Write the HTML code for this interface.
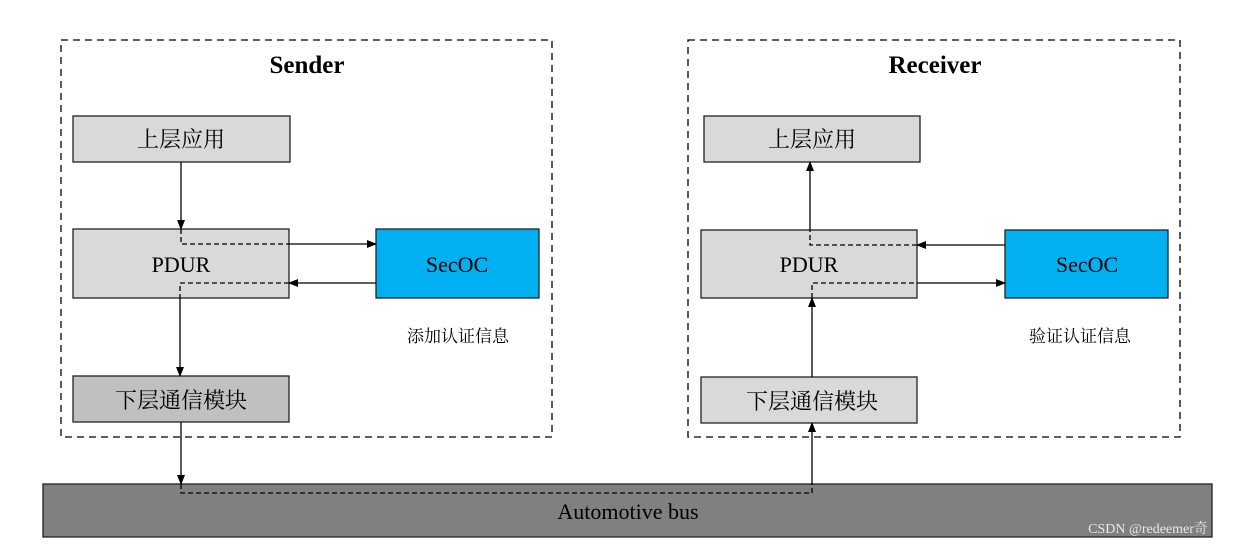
<!DOCTYPE html>
<html><head><meta charset="utf-8"><style>
body{margin:0;background:#fff}
svg text{font-family:"Liberation Serif","Noto Serif CJK SC",serif}
</style></head><body>
<svg width="1237" height="548" xmlns="http://www.w3.org/2000/svg">
<defs><marker id="a" markerWidth="10" markerHeight="10" refX="9" refY="4" orient="auto" markerUnits="userSpaceOnUse"><path d="M0,0 L10,4 L0,8 z" fill="#000"/></marker></defs>
<rect width="1237" height="548" fill="#fff"/>
<rect x="61" y="40" width="491" height="397" fill="none" stroke="#000" stroke-width="1.3" stroke-dasharray="7,5"/>
<rect x="688" y="40" width="492" height="397" fill="none" stroke="#000" stroke-width="1.3" stroke-dasharray="7,5"/>
<text x="307" y="73" font-size="25" font-weight="bold" text-anchor="middle">Sender</text>
<text x="935" y="73" font-size="25" font-weight="bold" text-anchor="middle">Receiver</text>
<rect x="43" y="484" width="1169" height="53" fill="#808080" stroke="#222" stroke-width="1.3"/>
<text x="628" y="519" font-size="22" text-anchor="middle">Automotive bus</text>
<g stroke="#222" stroke-width="1.3">
<rect x="73" y="116" width="217" height="46" fill="#d9d9d9"/>
<rect x="73" y="229" width="216" height="69" fill="#d9d9d9"/>
<rect x="376" y="229" width="163" height="69" fill="#00b0f0"/>
<rect x="73" y="376" width="216" height="46" fill="#c0c0c0"/>
<rect x="704" y="116" width="216" height="46" fill="#d9d9d9"/>
<rect x="701" y="230" width="216" height="68" fill="#d9d9d9"/>
<rect x="1005" y="230" width="163" height="68" fill="#00b0f0"/>
<rect x="701" y="377" width="216" height="46" fill="#d9d9d9"/>
</g>
<g font-size="22" text-anchor="middle">
<text x="181" y="147" font-family="Noto Sans CJK SC">上层应用</text>
<text x="181" y="272">PDUR</text>
<text x="457" y="272">SecOC</text>
<text x="181" y="408" font-family="Noto Sans CJK SC">下层通信模块</text>
<text x="812" y="147" font-family="Noto Sans CJK SC">上层应用</text>
<text x="809" y="272">PDUR</text>
<text x="1087" y="272">SecOC</text>
<text x="812" y="409" font-family="Noto Sans CJK SC">下层通信模块</text>
</g>
<text x="458" y="342" font-size="17" text-anchor="middle">添加认证信息</text>
<text x="1080" y="342" font-size="17" text-anchor="middle">验证认证信息</text>
<g stroke="#000" stroke-width="1.3" fill="none">
<line x1="181" y1="162" x2="181" y2="229" marker-end="url(#a)"/>
<line x1="289" y1="244" x2="376" y2="244" marker-end="url(#a)"/>
<line x1="376" y1="283" x2="289" y2="283" marker-end="url(#a)"/>
<line x1="180" y1="298" x2="180" y2="376" marker-end="url(#a)"/>
<line x1="181" y1="422" x2="181" y2="484" marker-end="url(#a)"/>
<line x1="812" y1="484" x2="812" y2="423" marker-end="url(#a)"/>
<line x1="812" y1="377" x2="812" y2="298" marker-end="url(#a)"/>
<line x1="917" y1="283" x2="1005" y2="283" marker-end="url(#a)"/>
<line x1="1005" y1="245" x2="917" y2="245" marker-end="url(#a)"/>
<line x1="810" y1="230" x2="810" y2="162" marker-end="url(#a)"/>
</g>
<g stroke="#000" stroke-width="1.3" fill="none" stroke-dasharray="5,3">
<polyline points="181,229 181,244 289,244"/>
<polyline points="289,283 180,283 180,298"/>
<polyline points="181,484 181,493 812,493 812,484"/>
<polyline points="812,298 812,283 917,283"/>
<polyline points="917,245 810,245 810,230"/>
</g>
<text x="1148" y="533" font-size="14" fill="#e8e8e8" text-anchor="middle" font-family="Liberation Sans, Noto Sans CJK SC, sans-serif">CSDN @redeemer奇</text>
</svg>
</body></html>
